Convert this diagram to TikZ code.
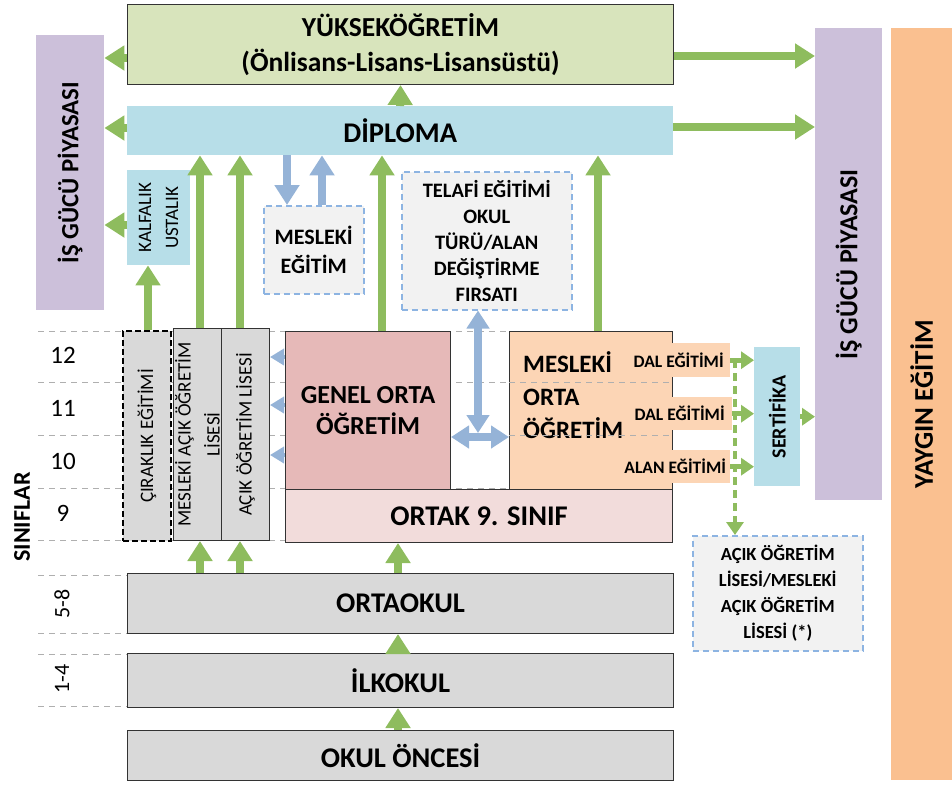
\documentclass[tikz,border=0pt]{standalone}
\usepackage{fontspec}
\setmainfont{Carlito}
\usetikzlibrary{arrows.meta}

\definecolor{yukgreen}{RGB}{216,228,188}
\definecolor{dipblue}{RGB}{183,222,232}
\definecolor{lavender}{RGB}{204,192,218}
\definecolor{yaygin}{RGB}{250,192,144}
\definecolor{boxgray}{RGB}{217,217,217}
\definecolor{palegray}{RGB}{242,242,242}
\definecolor{genelred}{RGB}{230,185,184}
\definecolor{ortakpink}{RGB}{242,220,219}
\definecolor{meslekorange}{RGB}{252,213,181}
\definecolor{arrgreen}{RGB}{142,188,94}
\definecolor{arrblue}{RGB}{149,179,215}
\definecolor{dashblue}{RGB}{141,180,226}
\definecolor{gridgray}{RGB}{175,175,175}
\newcommand{\fsz}[2]{\fontsize{#1}{#2}\selectfont}

\begin{document}
\begin{tikzpicture}[x=1pt,y=-1pt,
  box/.style={draw=black!80, line width=1pt, inner sep=0pt, align=center, anchor=north west},
  flat/.style={inner sep=0pt, align=center, anchor=north west},
  dbox/.style={draw=dashblue, line width=1.5pt, dash pattern=on 6pt off 4pt, fill=palegray, inner sep=0pt, align=center, anchor=north west},
  vtext/.style={rotate=90, align=center, inner sep=0pt},
  grid/.style={draw=gridgray, line width=1pt, dash pattern=on 6pt off 5pt},
  garrow/.style={draw=arrgreen, line width=8pt, -{Triangle[length=20pt,width=24pt]}},
  gsmall/.style={draw=arrgreen, line width=5pt, -{Triangle[length=13pt,width=17pt]}},
  barrow/.style={draw=arrblue, line width=8pt, -{Triangle[length=20pt,width=24pt]}},
  bsmall/.style={draw=arrblue, line width=4pt, -{Triangle[length=14pt,width=16pt]}},
  bdouble/.style={draw=arrblue, line width=8pt, {Triangle[length=18pt,width=22pt]}-{Triangle[length=18pt,width=22pt]}}]
\useasboundingbox (0,0) rectangle (952,785);

% sinif cizgileri
\foreach \y in {331,382,435,488,540} \draw[grid] (38,\y) -- (672,\y);
\foreach \y in {575,633,654,706} \draw[grid] (38,\y) -- (127,\y);

% ust kisim
\node[box, fill=yukgreen, minimum width=546pt, minimum height=80pt, font=\fsz{27.5}{35}\bfseries] (yuk) at (127,4) {YÜKSEKÖĞRETİM\\(Önlisans-Lisans-Lisansüstü)};
\node[flat, fill=dipblue, minimum width=546pt, minimum height=49pt, font=\fsz{28.5}{30}\bfseries] (diploma) at (127,106) {DİPLOMA};
\node[flat, fill=lavender, minimum width=68pt, minimum height=275pt] (isgucL) at (36,35) {};
\node[vtext, font=\fsz{24.8}{26}\bfseries] (isgucLt) at (isgucL) {İŞ GÜCÜ PİYASASI};
\node[flat, fill=lavender, minimum width=67pt, minimum height=472pt] (isgucR) at (815,28) {};
\node[vtext, font=\fsz{26}{28}\bfseries] (isgucRt) at (isgucR) {İŞ GÜCÜ PİYASASI};
\node[flat, fill=yaygin, minimum width=61pt, minimum height=752pt] (yaygin) at (891,28) {};
\node[vtext, font=\fsz{27}{30}\bfseries] (yaygint) at (yaygin) {YAYGIN EĞİTİM};
\node[flat, fill=dipblue, minimum width=63pt, minimum height=95pt] (kalfalik) at (127,170) {};
\node[vtext, font=\fsz{19}{27}] (kalfalikt) at (kalfalik) {KALFALIK\\USTALIK};
\node[dbox, minimum width=100pt, minimum height=88pt, font=\fsz{22}{29}\bfseries] (meslekegitim) at (263,205) {MESLEKİ\\EĞİTİM};
\node[dbox, minimum width=170pt, minimum height=138pt, font=\fsz{20.5}{26}\bfseries] (telafi) at (401,171) {TELAFİ EĞİTİMİ\\OKUL\\TÜRÜ/ALAN\\DEĞİŞTİRME\\FIRSATI};

% ortaogretim
\node[flat, fill=boxgray, draw=black, line width=2pt, dash pattern=on 6pt off 3pt, minimum width=48pt, minimum height=210pt] (cirak) at (122,330) {};
\node[vtext, font=\fsz{19}{26}] (cirakt) at (cirak) {ÇIRAKLIK EĞİTİMİ};
\node[box, fill=boxgray, minimum width=48pt, minimum height=212pt] (macik) at (173,328) {};
\node[vtext, font=\fsz{19}{29}] (macikt) at (macik) {MESLEKİ AÇIK ÖĞRETİM\\LİSESİ};
\node[box, fill=boxgray, minimum width=48pt, minimum height=212pt] (acik) at (221,328) {};
\node[vtext, font=\fsz{19}{26}] (acikt) at (acik) {AÇIK ÖĞRETİM LİSESİ};
\node[box, fill=genelred, minimum width=165pt, minimum height=158pt, font=\fsz{26}{31}\bfseries] (genel) at (285,331) {GENEL ORTA\\ÖĞRETİM};
\node[box, fill=ortakpink, minimum width=387pt, minimum height=53pt, font=\fsz{28.5}{30}\bfseries] (ortak) at (285,489) {ORTAK 9. SINIF};
\node[box, fill=meslekorange, minimum width=163pt, minimum height=158pt] (mesleki) at (509,331) {};
\node[anchor=north west, align=left, inner sep=0pt, font=\fsz{25}{33}\bfseries] (meslekit) at (523,351) {MESLEKİ\\ORTA\\ÖĞRETİM};
\foreach \y in {382,435} \draw[grid] (mesleki.west |- 0,\y) -- (mesleki.east |- 0,\y);
\node[flat, fill=meslekorange, minimum width=103pt, minimum height=34pt, font=\fsz{17.5}{20}\bfseries] (dal1) at (627,343) {DAL EĞİTİMİ};
\node[flat, fill=meslekorange, minimum width=105pt, minimum height=33pt, font=\fsz{17.5}{20}\bfseries] (dal2) at (627,397) {DAL EĞİTİMİ};
\node[flat, fill=meslekorange, minimum width=110pt, minimum height=33pt, font=\fsz{17.5}{20}\bfseries] (alan) at (620,450) {ALAN EĞİTİMİ};
\node[flat, fill=dipblue, minimum width=46pt, minimum height=139pt] (sertifika) at (754,347) {};
\node[vtext, font=\fsz{20}{24}\bfseries] (sertifikat) at (sertifika) {SERTİFİKA};
\node[dbox, minimum width=170pt, minimum height=115pt, font=\fsz{18.5}{26}\bfseries] (aobox) at (692,535) {AÇIK ÖĞRETİM\\LİSESİ/MESLEKİ\\AÇIK ÖĞRETİM\\LİSESİ (*)};

% temel egitim
\node[box, fill=boxgray, minimum width=546pt, minimum height=60pt, font=\fsz{28.5}{30}\bfseries] (ortaokul) at (127,573) {ORTAOKUL};
\node[box, fill=boxgray, minimum width=546pt, minimum height=54pt, font=\fsz{28.5}{30}\bfseries] (ilkokul) at (127,653) {İLKOKUL};
\node[box, fill=boxgray, minimum width=546pt, minimum height=50pt, font=\fsz{28.5}{30}\bfseries] (oncesi) at (127,730) {OKUL ÖNCESİ};

% siniflar
\foreach \g/\y in {12/355,11/408,10/461,9/513} \node[font=\fsz{25}{26}] (s\g) at (63,\y) {\g};
\node[vtext, font=\fsz{22}{24}] (s58) at (62,604) {5-8};
\node[vtext, font=\fsz{22}{24}] (s14) at (62,679) {1-4};
\node[vtext, font=\fsz{24}{26}\bfseries] (siniflar) at (22,517) {SINIFLAR};

% oklar
\draw[garrow] (yuk.west |- 0,58) -- (isgucL.east |- 0,58);
\draw[garrow] (diploma.west |- 0,128) -- (isgucL.east |- 0,128);
\draw[garrow] (kalfalik.west |- 0,225) -- (isgucL.east |- 0,225);
\draw[garrow] (yuk.east |- 0,56) -- (isgucR.west |- 0,56);
\draw[garrow] (diploma.east |- 0,127) -- (isgucR.west |- 0,127);
\draw[garrow] (diploma.north) -- (yuk.south);
\draw[garrow] (cirak.north -| 148,0) -- (kalfalik.south -| 148,0);
\draw[garrow] (macik.north -| 200,0) -- (diploma.south -| 200,0);
\draw[garrow] (acik.north -| 240,0) -- (diploma.south -| 240,0);
\draw[barrow] (diploma.south -| 287,0) -- (meslekegitim.north -| 287,0);
\draw[barrow] (meslekegitim.north -| 322,0) -- (diploma.south -| 322,0);
\draw[garrow] (genel.north -| 382,0) -- (diploma.south -| 382,0);
\draw[garrow] (mesleki.north -| 598,0) -- (diploma.south -| 598,0);
\coordinate (kesisim) at (478,433);
\draw[bdouble] (telafi.south -| kesisim) -- (kesisim);
\draw[bdouble] (genel.east |- 0,437) -- (mesleki.west |- 0,437);
\foreach \y in {357,405,455} \draw[bsmall] (genel.west |- 0,\y) -- (acik.east |- 0,\y);
\foreach \k in {dal1,dal2,alan} \draw[gsmall] (\k.east) -- (sertifika.west |- \k.east);
\draw[gsmall] (sertifika.east) -- (isgucR.west |- sertifika.east);
\draw[gsmall, line width=4pt, dash pattern=on 8pt off 5pt] (dal1.east -| 735,0) -- (aobox.north -| 735,0);
\draw[garrow] (ortaokul.north -| 200,0) -- (macik.south -| 200,0);
\draw[garrow] (ortaokul.north -| 240,0) -- (acik.south -| 240,0);
\draw[garrow] (ortaokul.north -| 398,0) -- (ortak.south -| 398,0);
\draw[garrow] (ilkokul.north -| 398,0) -- (ortaokul.south -| 398,0);
\draw[garrow] (oncesi.north -| 398,0) -- (ilkokul.south -| 398,0);
\end{tikzpicture}
\end{document}
